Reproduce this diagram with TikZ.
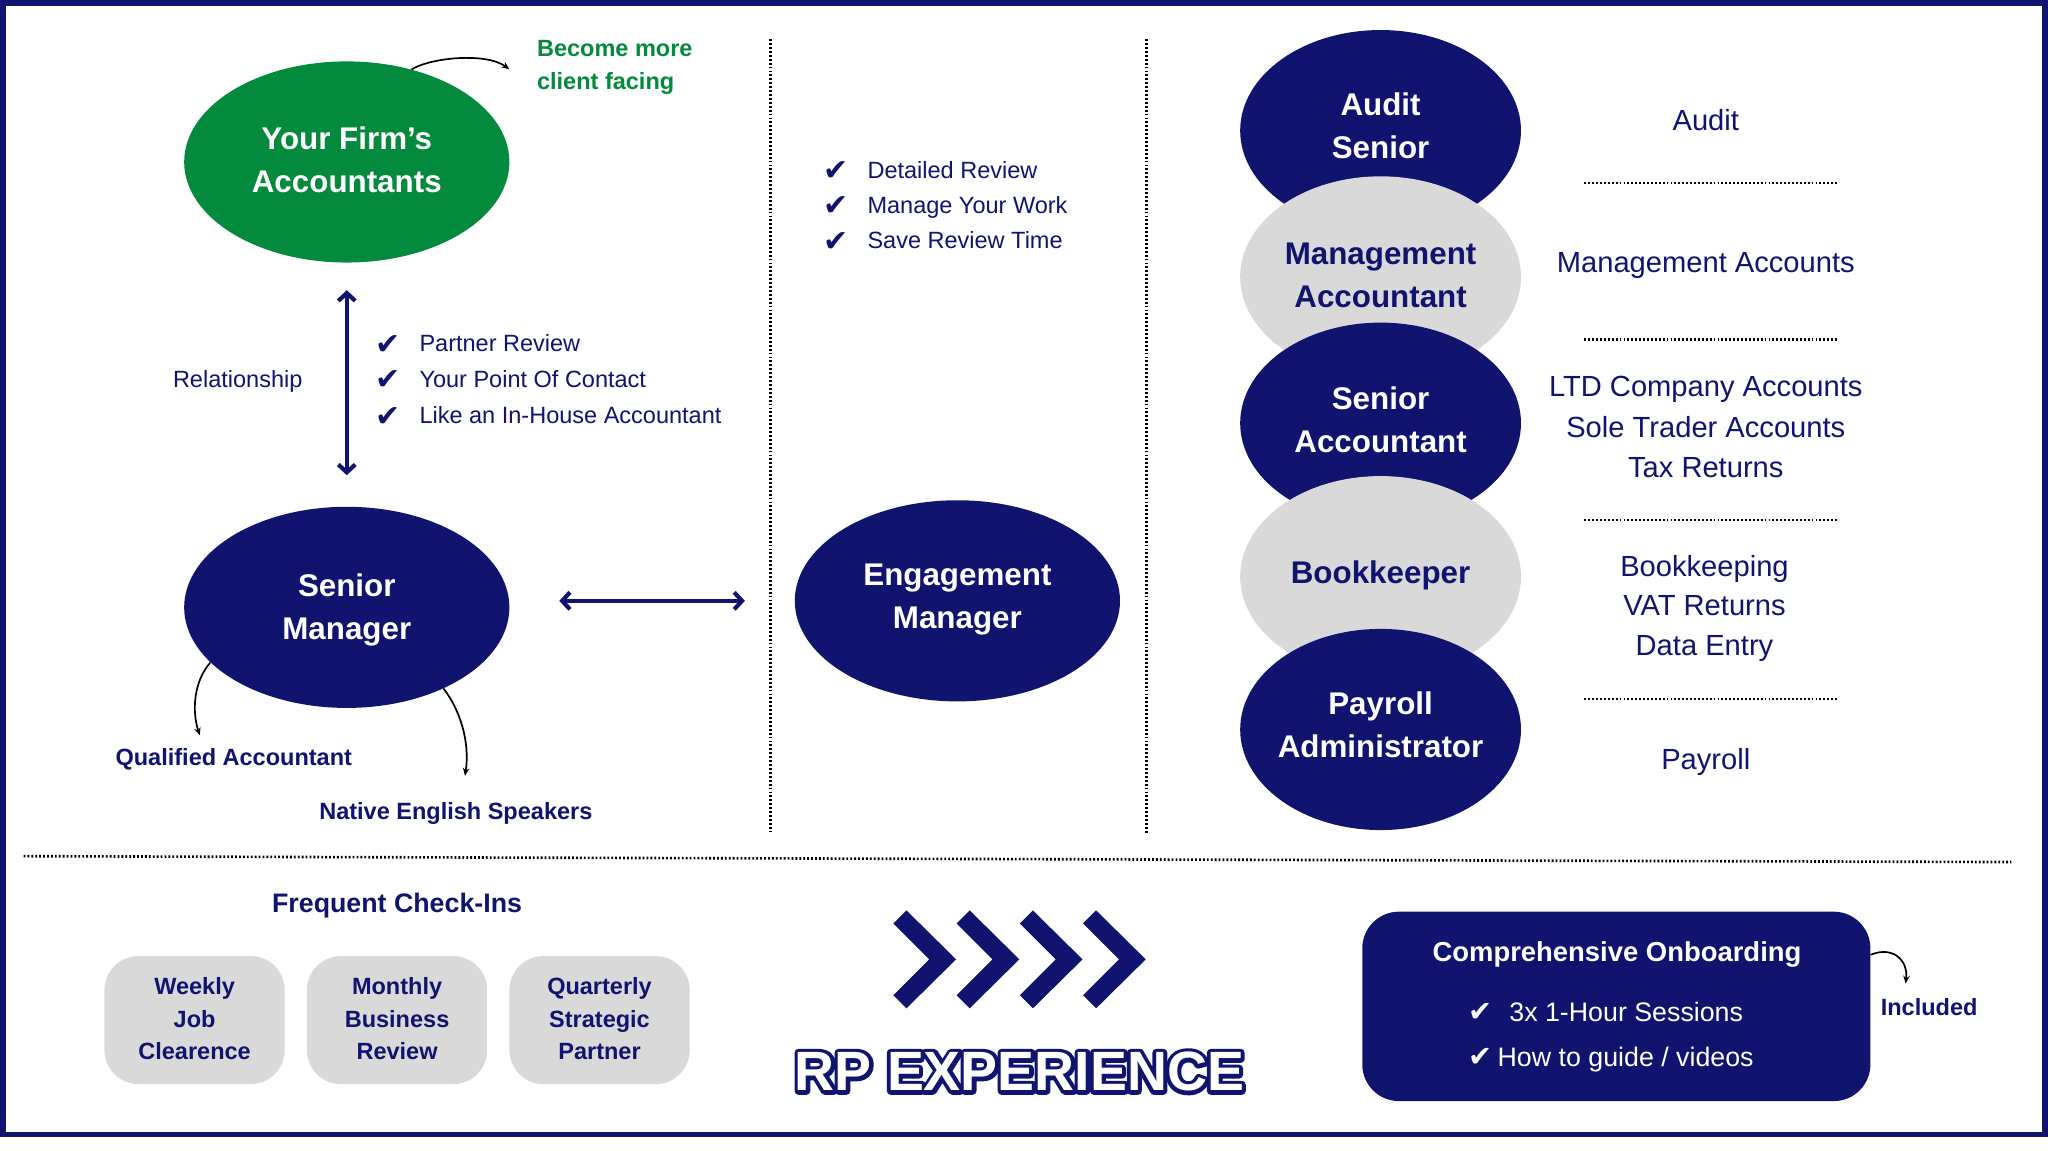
\documentclass[tikz,border=0pt]{standalone}
\usepackage{fontspec}
\setmainfont{Liberation Sans}
\newfontfamily\symfont{DejaVu Sans}
\usetikzlibrary{shapes.geometric,arrows.meta,calc}
\definecolor{navy}{RGB}{17,20,110}
\definecolor{fgreen}{RGB}{3,138,61}
\definecolor{lgray}{RGB}{217,217,217}
\newcommand\fsz[2]{\fontsize{#1}{#2}\selectfont}
\newcommand\outlinetext[1]{\rlap{\color{navy}\special{pdf:literal direct 0.067 0.078 0.431 RG 6 w 1 j 2 Tr}#1\special{pdf:literal direct 0 Tr 1 w}}\color{white}#1}
\begin{document}
\begin{tikzpicture}[x=1pt,y=-1pt,
  ell/.style={ellipse, inner xsep=-30pt, inner ysep=-20pt, minimum width=249pt, minimum height=154pt, align=center, font=\bfseries\fsz{24}{33}},
  circ/.style={ellipse, inner xsep=-30pt, inner ysep=-20pt, minimum width=215pt, minimum height=154pt, align=center, font=\bfseries\fsz{24}{33}},
  dk/.style={fill=navy, text=white},
  lt/.style={fill=lgray, text=navy},
  lab/.style={inner sep=0pt, text depth=0pt, text=navy},
  r18/.style={lab, font=\fsz{18}{22}, text height=12.9pt},
  b18/.style={lab, font=\bfseries\fsz{18}{22}, text height=12.9pt},
  r22/.style={lab, font=\fsz{22.3}{31}, text height=16pt},
  chk/.style={inner sep=0pt, text=navy, font=\symfont\fsz{23}{24}},
  dotl/.style={line width=2pt, dash pattern=on 1.4pt off 1.6pt},
  thinarr/.style={line width=1.3pt, -{Stealth[length=6pt,width=5pt]}},
  dblarr/.style={navy, line width=3.2pt, {Straight Barb[length=6pt,width=13pt]}-{Straight Barb[length=6pt,width=13pt]}},
  cibox/.style={rectangle, rounded corners=26pt, fill=lgray, minimum width=138pt, minimum height=98pt, inner sep=0pt, align=center, text=navy, font=\bfseries\fsz{18}{25}, text depth=2pt},
  rpf/.style={inner sep=0pt, font=\bfseries\fsz{42.4}{43}, text height=30.4pt, text depth=0pt}
]
\fill[white] (0,0) rectangle (1568,881);
\useasboundingbox (0,0) rectangle (1568,881);
\draw[navy, line width=4.4pt] (2.2,2.2) rectangle (1565.5,868.5);

% dotted separators
\draw[dotl] (590,30) -- (590,637);
\draw[dotl] (878,30) -- (878,638);
\draw[dotl] (18,655.5) -- (1540,660);
\foreach \yy in {140,260,398,535} \draw[dotl, line width=1.8pt] (1213,\yy) -- (1407,\yy);

% left column
\node[ell, fill=fgreen, text=white, text depth=3pt] (firm) at (265.5,124) {Your Firm’s\\Accountants};
\node[ell, fill=navy, text=white, text depth=1pt] (sm) at (265.5,465) {Senior\\Manager};
\node[ell, fill=navy, text=white, text depth=7pt] (em) at (733,460) {Engagement\\Manager};

\draw[dblarr, shorten <=21pt, shorten >=24pt] (firm) -- (sm);
\draw[dblarr] ([xshift=38pt,yshift=5pt]sm.east) -- ([xshift=-38pt]em.west);

\coordinate (bme) at (390,53);
\draw[thinarr] (firm.55) .. controls (330,44) and (372,40) .. (bme);
\coordinate (qae) at (153,563);
\draw[thinarr] (sm.202) .. controls (148,522) and (147,545) .. (qae);
\coordinate (nee) at (356,594);
\draw[thinarr] (sm.320) .. controls (352,543) and (360,568) .. (nee);

\node[lab, font=\bfseries\fsz{18}{25}, text=fgreen, align=left, anchor=west] (bmt) at (411,49.5) {Become more\\client facing};
\node[r18] (rel) at (182,290) {Relationship};
\node[chk] (c1) at (297,264) {✔};
\node[chk] (c2) at (297,291) {✔};
\node[chk] (c3) at (297,319) {✔};
\node[r18, anchor=west] (t1) at (321,263) {Partner Review};
\node[r18, anchor=west] (t2) at (321,290) {Your Point Of Contact};
\node[r18, anchor=west] (t3) at (321,318) {Like an In-House Accountant};
\node[b18] (qa) at (179,580) {Qualified Accountant};
\node[b18] (ne) at (349,621) {Native English Speakers};

% middle column
\node[chk] (m1) at (640,131) {✔};
\node[chk] (m2) at (640,158) {✔};
\node[chk] (m3) at (640,185) {✔};
\node[r18, anchor=west] (mt1) at (664,130) {Detailed Review};
\node[r18, anchor=west] (mt2) at (664,157) {Manage Your Work};
\node[r18, anchor=west] (mt3) at (664,184) {Save Review Time};

% right column
\node[circ, dk, text depth=8pt] (as) at (1057,100) {Audit\\Senior};
\node[circ, lt, text depth=3pt] (ma) at (1057,212) {Management\\Accountant};
\node[circ, dk, text depth=6pt] (sa) at (1057,324) {Senior\\Accountant};
\node[circ, lt, text depth=7pt] (bk) at (1057,441.5) {Bookkeeper};
\node[circ, dk, text depth=8pt] (pa) at (1057,558.5) {Payroll\\Administrator};

\node[r22] (ra) at (1306,92) {Audit};
\node[r22] (rm) at (1306,201) {Management Accounts};
\node[lab, font=\fsz{22.3}{31}, align=center] (rs) at (1306,327) {LTD Company Accounts\\Sole Trader Accounts\\Tax Returns};
\node[lab, font=\fsz{22.3}{30.5}, align=center] (rb) at (1305,463.5) {Bookkeeping\\VAT Returns\\Data Entry};
\node[r22] (rp2) at (1306,581) {Payroll};

% bottom left
\node[lab, font=\bfseries\fsz{20.5}{24}, text height=14.7pt] (fci) at (304,691) {Frequent Check-Ins};
\node[cibox] (wk) at (149,781) {Weekly\\Job\\Clearence};
\node[cibox] (mo) at (304,781) {Monthly\\Business\\Review};
\node[cibox] (qu) at (459,781) {Quarterly\\Strategic\\Partner};

% chevrons
\foreach \cx in {684,732.4,780.8,829.2}
  \fill[navy] (\cx+10,697) -- (\cx+48,734.5) -- (\cx+10,772) -- (\cx,762) -- (\cx+27.5,734.5) -- (\cx,707) -- cycle;

% RP EXPERIENCE (outlined text)
\node[rpf] (rptxt) at (780.5,820) {\outlinetext{RP EXPERIENCE}};

% onboarding
\node[rectangle, rounded corners=28pt, fill=navy, minimum width=389pt, minimum height=145pt, inner sep=0pt] (ob) at (1237.5,770.5) {};
\node[lab, text=white, font=\bfseries\fsz{21}{24}, text height=15pt] (obt) at (1238,729) {Comprehensive Onboarding};
\node[lab, text=white, font=\fsz{20.5}{24}, text height=14.7pt, anchor=west] (ob1) at (1124,775) {{\symfont\fsz{22}{24}✔}\hspace{13pt}3x 1-Hour Sessions};
\node[lab, text=white, font=\fsz{20.5}{24}, text height=14.7pt, anchor=west] (ob2) at (1124,809) {{\symfont\fsz{22}{24}✔}\hspace{4pt}How to guide / videos};
\coordinate (ince) at (1459,753);
\draw[thinarr] ([yshift=39.5pt]ob.east) .. controls (1449,724) and (1461,735) .. (ince);
\node[b18] (inc) at (1477,771) {Included};
\end{tikzpicture}
\end{document}
